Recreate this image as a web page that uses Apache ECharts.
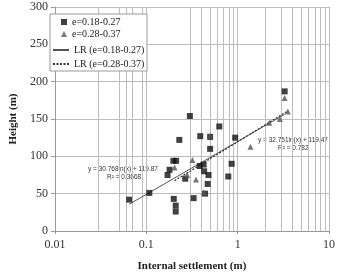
<!DOCTYPE html>
<html>
<head>
<meta charset="utf-8">
<script src="https://cdn.jsdelivr.net/npm/echarts@6/dist/echarts.min.js"></script>
<style>
  html, body { margin: 0; padding: 0; background: #fff; }
  #chart { width: 338px; height: 277px; }
</style>
</head>
<body>
<div id="chart"></div>
<script type="text/javascript">
  // e=0.18-0.27 (squares): [settlement m, height m]
  var groupA = [
    [0.065, 42], [0.108, 51], [0.18, 82], [0.171, 75], [0.198, 94], [0.212, 94],
    [0.2, 43], [0.21, 34], [0.21, 26], [0.23, 122], [0.30, 154], [0.267, 70],
    [0.33, 44], [0.39, 127], [0.384, 87], [0.425, 89], [0.43, 80], [0.48, 75],
    [0.47, 63], [0.44, 50], [0.50, 110], [0.50, 126], [0.63, 140], [0.79, 73],
    [0.86, 90], [0.94, 125], [3.27, 187]
  ];
  // e=0.28-0.37 (triangles)
  var groupB = [
    [0.204, 85], [0.32, 95], [0.28, 75], [0.35, 69], [0.425, 52], [0.50, 128],
    [1.38, 113], [2.22, 145], [2.9, 150], [3.54, 160], [3.27, 178]
  ];
  // regression lines, end points
  var lrA = [[0.065, 35.8], [3.27, 156.3]];
  var lrB = [[0.204, 67.4], [3.54, 160.9]];
  var minorGridX = [0.03, 0.05, 0.06, 0.07, 0.09, 0.3, 0.4, 0.5, 0.6, 0.7, 0.8, 0.9, 2, 3, 4, 5, 6, 7, 8, 9];
  var names = ['e=0.18-0.27', 'e=0.28-0.37', 'LR (e=0.18-0.27)', 'LR (e=0.28-0.37)'];

  var serif = "'Liberation Serif', 'Times New Roman', serif";
  var sans = "'Liberation Sans', Arial, sans-serif";
  var legendText = { fontFamily: serif, fontSize: 10, color: '#222', lineHeight: 10 };
  var noDot = { color: 'rgba(0,0,0,0)', borderWidth: 0 };

  var chart = echarts.init(document.getElementById('chart'));
  var option = {
    animation: false,
    grid: { left: 42, right: 4, top: 7, bottom: 44 },
    legend: [
      {
        data: [{ name: names[0], icon: 'rect' }, { name: names[1], icon: 'triangle' }],
        orient: 'vertical', left: 61, top: 17, padding: 0, z: 20,
        itemGap: 2, itemWidth: 6, itemHeight: 6,
        textStyle: legendText
      },
      {
        data: [{ name: names[2], itemStyle: noDot }, { name: names[3], itemStyle: noDot }],
        orient: 'vertical', left: 52, top: 45, padding: 0, z: 20,
        itemGap: 4, itemWidth: 16, itemHeight: 6,
        textStyle: legendText
      }
    ],
    xAxis: {
      type: 'log', logBase: 10, min: 0.01, max: 10,
      name: 'Internal settlement (m)',
      nameLocation: 'middle', nameGap: 30,
      nameTextStyle: { fontFamily: serif, fontSize: 11, fontWeight: 'bold', color: '#222' },
      axisLine: { lineStyle: { color: '#999' } },
      axisTick: { show: true, length: 3, lineStyle: { color: '#999' } },
      axisLabel: { fontFamily: serif, fontSize: 12, color: '#333', margin: 8,
        formatter: function (v) { return String(v); } },
      splitLine: { show: true, lineStyle: { color: '#bdbdbd' } }
    },
    yAxis: {
      type: 'value', min: 0, max: 300, interval: 50,
      name: 'Height (m)',
      nameLocation: 'middle', nameGap: 33,
      nameTextStyle: { fontFamily: serif, fontSize: 11, fontWeight: 'bold', color: '#222' },
      axisLine: { show: true, lineStyle: { color: '#999' } },
      axisTick: { show: true, length: 4, lineStyle: { color: '#999' } },
      axisLabel: { fontFamily: serif, fontSize: 12, color: '#333', margin: 7 },
      splitLine: { show: true, lineStyle: { color: '#bdbdbd' } }
    },
    graphic: [
      // legend frame
      { type: 'rect', z: 15, shape: { x: 50, y: 14, width: 97, height: 57 },
        style: { fill: '#fff', stroke: '#999', lineWidth: 1 } },
      { type: 'text', left: 88, top: 166, style: { text: 'y = 30.768ln(x) + 119.87', fontSize: 6.5, fill: '#333', fontFamily: sans } },
      { type: 'text', left: 107, top: 174, style: { text: 'R\u00b2 = 0.3668', fontSize: 6.5, fill: '#333', fontFamily: sans } },
      { type: 'text', left: 258, top: 137, style: { text: 'y = 32.751ln(x) + 119.47', fontSize: 6.5, fill: '#333', fontFamily: sans } },
      { type: 'text', left: 278, top: 145, style: { text: 'R\u00b2 = 0.782', fontSize: 6.5, fill: '#333', fontFamily: sans } }
    ],
    series: [
      {
        type: 'scatter', data: [], silent: true, z: 1,
        markLine: {
          silent: true, symbol: ['none', 'none'], label: { show: false }, z: 1,
          lineStyle: { color: '#bdbdbd', type: 'solid', width: 1 },
          data: minorGridX.map(function (v) { return { xAxis: v }; })
        }
      },
      {
        name: names[2], type: 'line', data: lrA, symbol: 'none', z: 3,
        itemStyle: { color: '#555' },
        lineStyle: { color: '#555', width: 1, type: 'solid' }
      },
      {
        name: names[3], type: 'line', data: lrB, symbol: 'none', z: 3,
        itemStyle: { color: '#333' },
        lineStyle: { color: '#333', width: 1.2, type: [2, 1.5] }
      },
      {
        name: names[0], type: 'scatter', data: groupA, symbol: 'rect', symbolSize: 6, z: 4,
        itemStyle: { color: '#111' }
      },
      {
        name: names[1], type: 'scatter', data: groupB, symbol: 'triangle', symbolSize: 6, z: 5,
        itemStyle: { color: '#555' }
      }
    ]
  };
  chart.setOption(option);
</script>
</body>
</html>
